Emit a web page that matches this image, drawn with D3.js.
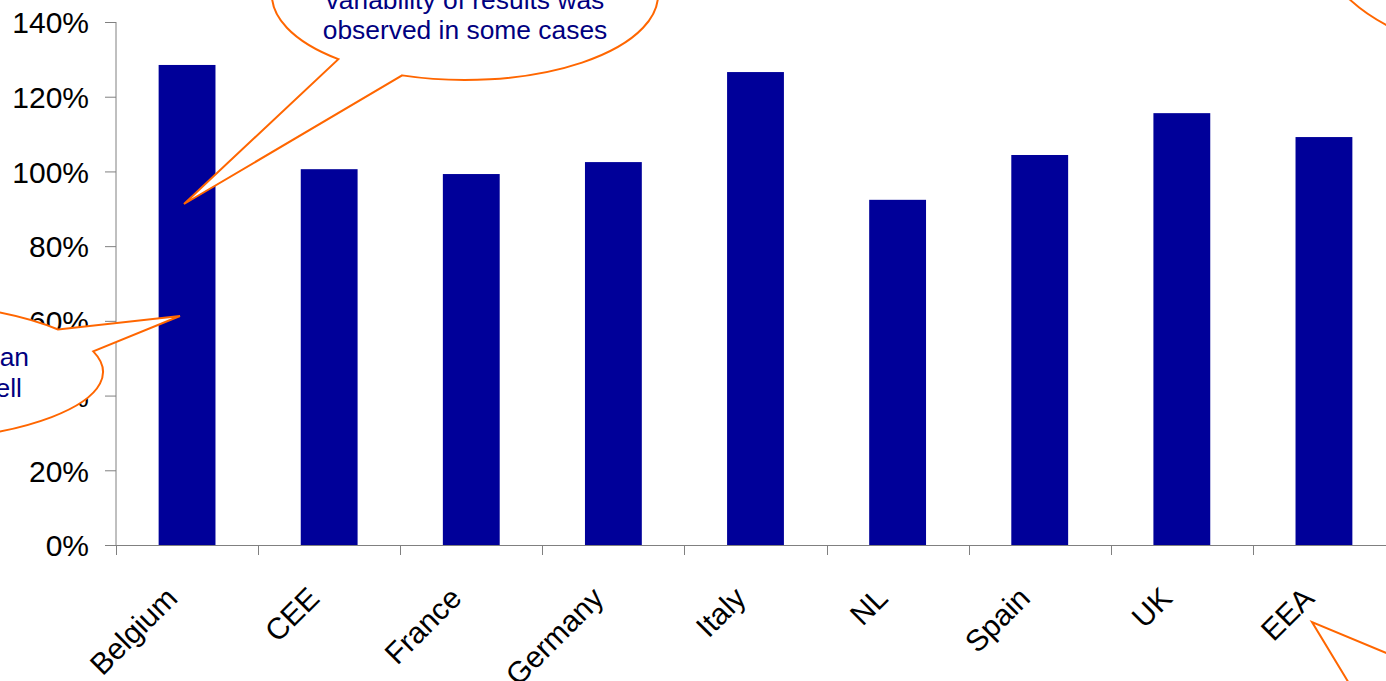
<!DOCTYPE html>
<html>
<head>
<meta charset="utf-8">
<script src="https://cdn.jsdelivr.net/npm/d3@7"></script>
<style>
  html, body { margin: 0; padding: 0; background: #fff; overflow: hidden; }
  svg { display: block; }
  text { font-family: "Liberation Sans", Arial, sans-serif; }
</style>
</head>
<body>
<svg id="chart" width="1386" height="681"></svg>
<script>
// Ratio by region (share of reference level)
const categories = ["Belgium", "CEE", "France", "Germany", "Italy", "NL", "Spain", "UK", "EEA"];
const values = [1.285, 1.006, 0.993, 1.025, 1.266, 0.924, 1.044, 1.156, 1.092];
const yTicks = [0, 0.2, 0.4, 0.6, 0.8, 1.0, 1.2, 1.4];

const calloutTop = ["variability of results was", "observed in some cases"];
const calloutLeft = ["Some results were better than", "planned as well"];

const W = 1386, H = 681;
const svg = d3.select("#chart");

const x = d3.scaleBand().domain(categories).range([116, 1395]).paddingInner(0.6).paddingOuter(0.3);
const y = d3.scaleLinear().domain([0, 1.4]).range([545, 22]);

const axisColor = "#808080";

// bars
svg.append("g").selectAll("rect").data(values).join("rect")
  .attr("x", (d, i) => x(categories[i]))
  .attr("width", x.bandwidth())
  .attr("y", d => y(d))
  .attr("height", d => y(0) - y(d))
  .attr("fill", "#000099");

// y axis
const yAxis = svg.append("g").attr("transform", "translate(116,0)")
  .call(d3.axisLeft(y).tickValues(yTicks).tickFormat(d3.format(".0%")).tickSize(11).tickPadding(16));
yAxis.select(".domain").attr("stroke", axisColor).attr("d", `M-0.5,${y(1.4)}V${y(0)}`).attr("transform", "translate(0.5,0)");
yAxis.selectAll(".tick line").attr("stroke", axisColor);
yAxis.selectAll(".tick text").attr("font-size", 30).attr("fill", "#000").attr("dy", "0.36em");

// x axis: line at zero, ticks on category boundaries
const xg = svg.append("g");
xg.append("line").attr("x1", 116).attr("x2", W).attr("y1", y(0) + 0.5).attr("y2", y(0) + 0.5)
  .attr("stroke", axisColor);
const step = x.step();
const boundaries = d3.range(categories.length + 1).map(i => 116 + i * step);
xg.selectAll("line.tk").data(boundaries).join("line").attr("class", "tk")
  .attr("x1", d => Math.round(d) + 0.5).attr("x2", d => Math.round(d) + 0.5)
  .attr("y1", y(0)).attr("y2", y(0) + 10).attr("stroke", axisColor);
xg.selectAll("text").data(categories).join("text")
  .attr("transform", d => `translate(${x(d) + x.bandwidth() / 2 - 8},600) rotate(-45)`)
  .attr("text-anchor", "end")
  .attr("font-size", 30)
  .attr("fill", "#000")
  .text(d => d);

// callouts: ellipse with a pointer wedge
const orange = "#FF6600", navy = "#000080";
function callout(cx, cy, rx, ry, t1, t2, tip) {
  const p = t => [cx + rx * Math.cos(t * Math.PI / 180), cy + ry * Math.sin(t * Math.PI / 180)];
  const a = p(t1), b = p(t2);
  // large arc from t2 round to t1, then out to the tip and back
  return `M${b[0]},${b[1]}A${rx},${ry} 0 1 1 ${a[0]},${a[1]}L${tip[0]},${tip[1]}Z`;
}
const cg = svg.append("g").attr("fill", "#fff").attr("stroke", orange).attr("stroke-width", 2);

cg.append("path").attr("d", callout(465, -5, 193, 85, 109, 131, [184, 204]));
cg.append("path").attr("d", callout(-120, 372, 223, 70.6, -37, -17, [180, 316]));
cg.append("ellipse").attr("cx", 1470).attr("cy", -110).attr("rx", 170).attr("ry", 155);
cg.append("path").attr("d", callout(1520, 760, 180, 80, -147, -109, [1312, 622]));

svg.append("g").selectAll("text").data(calloutTop).join("text")
  .attr("x", 465).attr("y", (d, i) => 9 + i * 30)
  .attr("text-anchor", "middle").attr("font-size", 26.4).attr("fill", navy).text(d => d);

svg.append("g").selectAll("text").data(calloutLeft).join("text")
  .attr("x", (d, i) => i === 0 ? 29 : 22).attr("y", (d, i) => 366 + i * 31)
  .attr("text-anchor", "end").attr("font-size", 26.4).attr("fill", navy).text(d => d);
</script>
</body>
</html>
